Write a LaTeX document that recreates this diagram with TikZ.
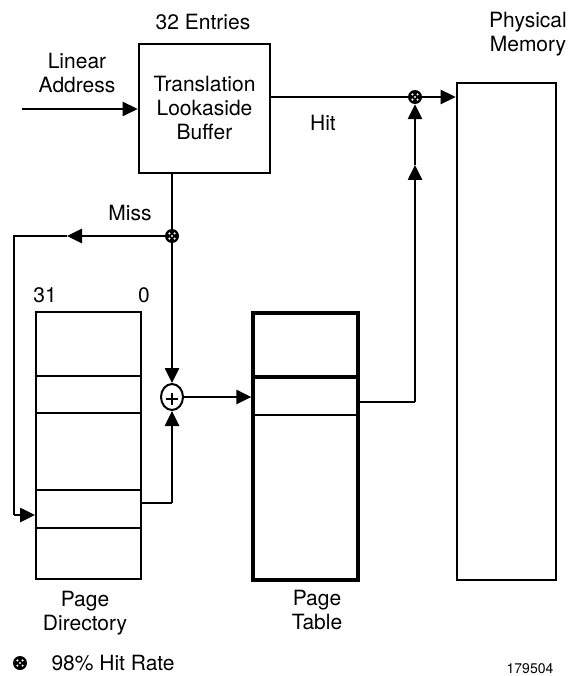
\documentclass[tikz,border=0pt]{standalone}
\usepackage{fontspec}
\setmainfont{TeX Gyre Heros}
\usetikzlibrary{arrows.meta,shapes.geometric}
\tikzset{
  blk/.style={draw,line width=2.6pt,inner sep=0pt},
  tap/.style={circle,fill=black,minimum size=14pt,inner sep=0pt,path picture={
    \foreach \dx/\dy in {-2.6/-2.6,2.6/-2.6,-2.6/2.6,2.6/2.6,0/0}{\fill[white] ([shift={(\dx pt,\dy pt)}]path picture bounding box.center) circle (1.2pt);}}},
  flow/.style={line width=2.6pt,-{Triangle[length=15pt,width=14pt]}},
  wire/.style={line width=2.6pt}
}
\begin{document}
\begin{tikzpicture}[x=1pt,y=-1pt,font=\fontsize{21}{24}\selectfont]
\useasboundingbox (0,0) rectangle (571,676);
\node[blk,minimum width=131pt,minimum height=129pt,align=center] (tlb) at (204.5,108.5){Translation\\Lookaside\\Buffer};
\node (entries) at (203,22){32 Entries};\node[align=center] (lin) at (77,73){Linear\\Address};
\node[align=center] (physlbl) at (528,34){Physical\\Memory};
\node[blk,minimum width=99pt,minimum height=497pt] (pm) at (506.5,331.5){};
\node[draw,line width=2pt,inner sep=0pt,minimum width=105pt,minimum height=267pt] (pd) at (88.5,445.5){};
\node[draw,line width=3.2pt,inner sep=0pt,minimum width=105pt,minimum height=267pt] (pt) at (305.5,446.5){};
\foreach \y in {376,413,490,528}{\draw[line width=2pt] (pd.west |- 0,\y)--(pd.east |- 0,\y);}
\draw[line width=3.2pt] (pt.west |- 0,377)--(pt.east |- 0,377);\draw[line width=2.6pt] (pt.west |- 0,415)--(pt.east |- 0,415);
\node (n31) at (45,295){31};\node (n0) at (144,295){0};
\node[align=center] (pdlbl) at (85,613){Page\\Directory};\node[align=center] (ptlbl) at (317,610){Page\\Table};
% junctions and adder
\node[tap] (hitdot) at (415,97){};\node[tap] (missdot) at (172,236){};
\node[ellipse,draw,line width=2pt,minimum width=22pt,minimum height=26pt,inner sep=0pt,path picture={\draw[line width=1.2pt] ([xshift=-6pt,yshift=-2pt]path picture bounding box.center)--([xshift=6pt,yshift=-2pt]path picture bounding box.center) ([yshift=-8pt]path picture bounding box.center)--([yshift=4pt]path picture bounding box.center);}] (adder) at (172,397){};
\coordinate (lin0) at (22,109);\coordinate (missarr) at (67,236);\coordinate (misscorner) at (14,236);\coordinate (pdin) at (14,515);
\coordinate (pdout) at (172,503);\coordinate (ptout) at (415,402);\coordinate (uparr) at (415,165);
% connectors
\draw[flow] (lin0)--(tlb.west |- lin0);
\draw[wire] (tlb.east |- hitdot)--(hitdot);\draw[flow] (hitdot)--(pm.west |- hitdot);
\node (hit) at (323,123){Hit};\node (miss) at (130,213){Miss};
\draw[wire] (missdot |- tlb.south)--(missdot);\draw[flow] (missdot)--(adder.north);
\draw[flow] (missdot)--(missarr);\draw[wire] (missarr)--(misscorner)--(pdin);\draw[flow] (pdin)--(pd.west |- pdin);
\draw[wire] (pd.east |- pdout)--(pdout);\draw[flow] (pdout)--(adder.south);
\draw[flow] (adder.east)--(pt.west |- adder);
\draw[wire] (pt.east |- ptout)--(ptout);\draw[flow] (ptout)--(uparr);\draw[flow] (uparr)--(hitdot.south);
% legend
\node[tap] (key) at (20,663){};\node[anchor=west] (rate) at (48,663){98\% Hit Rate};
\node[anchor=south,inner sep=1pt,font=\fontsize{14}{16}\selectfont] (figno) at (530,675){179504};
\end{tikzpicture}
\end{document}
